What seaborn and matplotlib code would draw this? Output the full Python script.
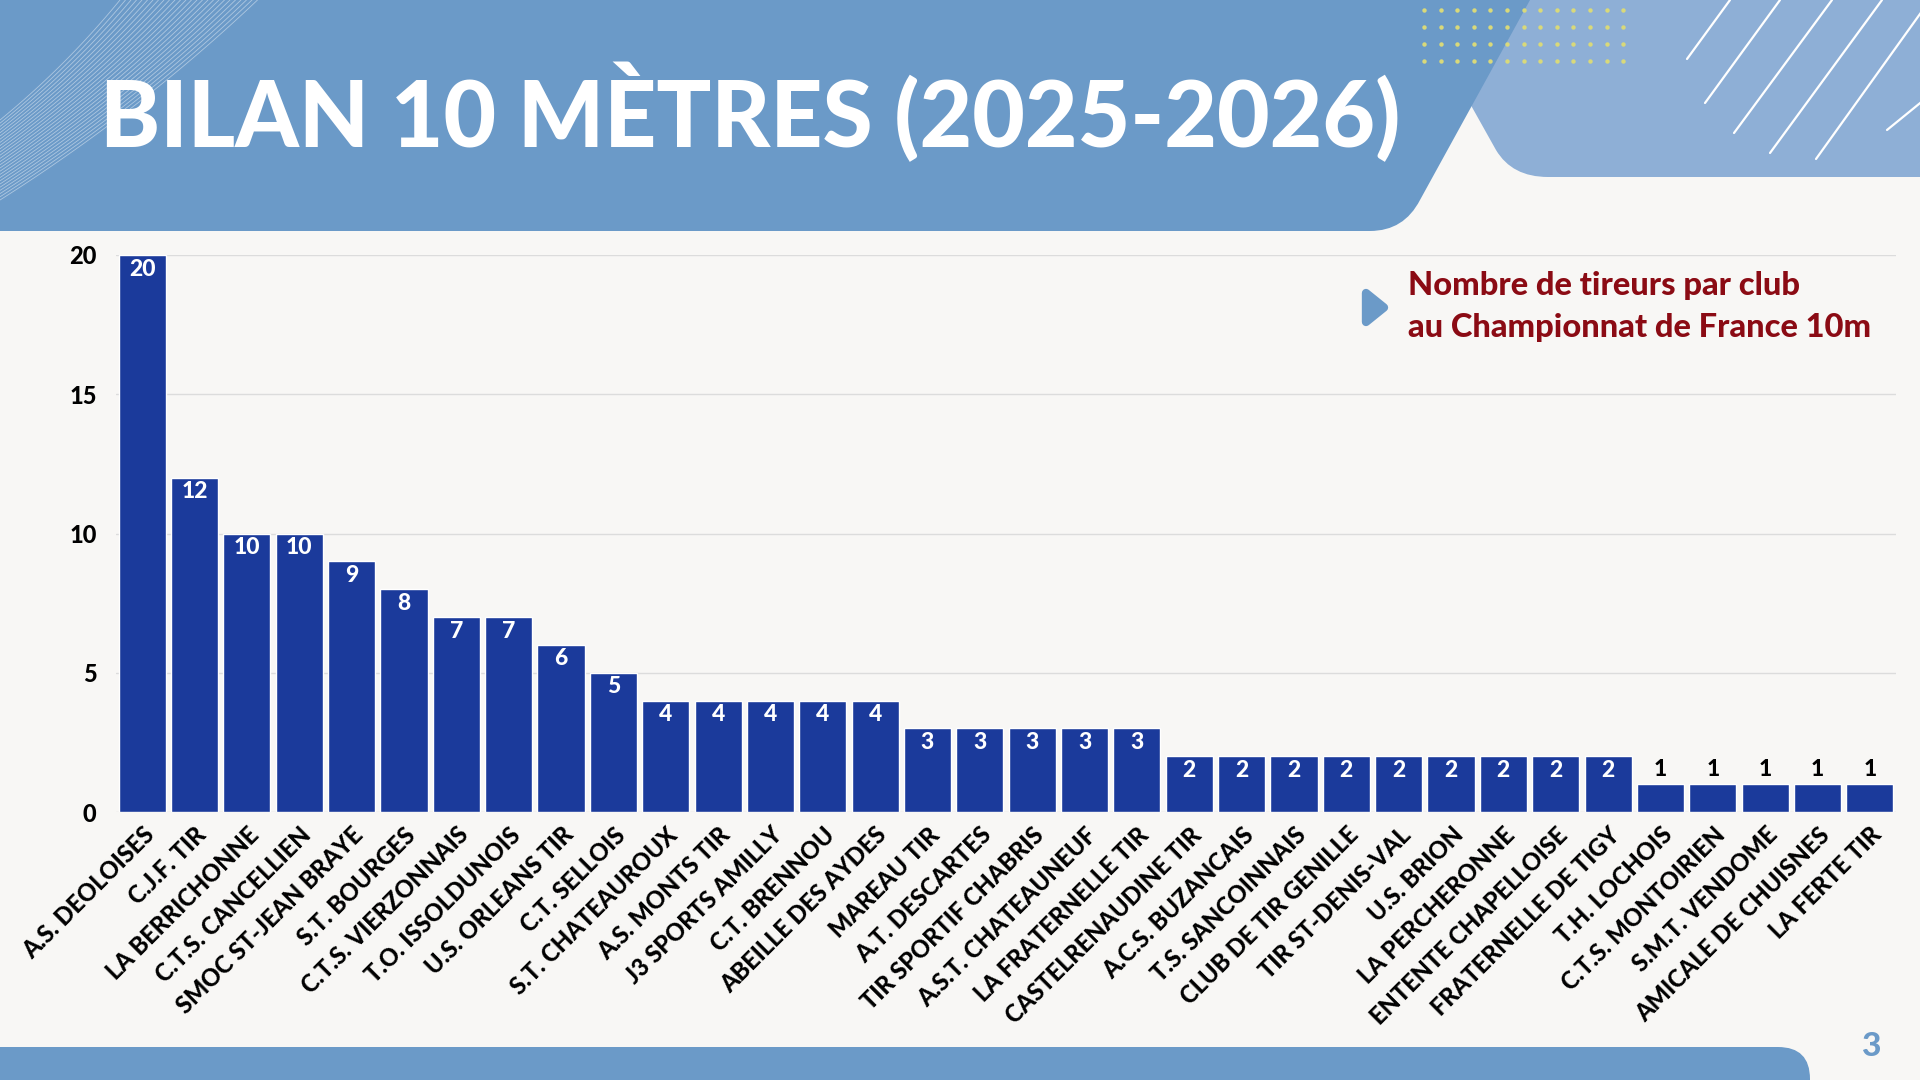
import matplotlib
matplotlib.use("Agg")
import matplotlib.pyplot as plt
import seaborn as sns
import numpy as np
import pandas as pd
from matplotlib.path import Path
from matplotlib.patches import PathPatch, FancyBboxPatch, Polygon

clubs = [
    "A.S. DEOLOISES", "C.J.F. TIR", "LA BERRICHONNE", "C.T.S. CANCELLIEN",
    "SMOC ST-JEAN BRAYE", "S.T. BOURGES", "C.T.S. VIERZONNAIS", "T.O. ISSOLDUNOIS",
    "U.S. ORLEANS TIR", "C.T. SELLOIS", "S.T. CHATEAUROUX", "A.S. MONTS TIR",
    "J3 SPORTS AMILLY", "C.T. BRENNOU", "ABEILLE DES AYDES", "MAREAU TIR",
    "A.T. DESCARTES", "TIR SPORTIF CHABRIS", "A.S.T. CHATEAUNEUF", "LA FRATERNELLE TIR",
    "CASTELRENAUDINE TIR", "A.C.S. BUZANCAIS", "T.S. SANCOINNAIS", "CLUB DE TIR GENILLE",
    "TIR ST-DENIS-VAL", "U.S. BRION", "LA PERCHERONNE", "ENTENTE CHAPELLOISE",
    "FRATERNELLE DE TIGY", "T.H. LOCHOIS", "C.T.S. MONTOIRIEN", "S.M.T. VENDOME",
    "AMICALE DE CHUISNES", "LA FERTE TIR",
]
tireurs = [20, 12, 10, 10, 9, 8, 7, 7, 6, 5, 4, 4, 4, 4, 4, 3, 3, 3, 3, 3,
           2, 2, 2, 2, 2, 2, 2, 2, 2, 1, 1, 1, 1, 1]
y_ticks = [0, 5, 10, 15, 20]
title_text = "BILAN 10 MÈTRES (2025-2026)"
legend_lines = ["Nombre de tireurs par club", "au Championnat de France 10m"]
page_number = "3"

BG = "#F8F7F5"
HEAD = "#6B9AC8"
HEAD_LIGHT = "#8EAFD6"
BAR = "#1B3A9B"
RED = "#8B0B14"

sns.set_theme(style="white")
plt.rcParams["font.family"] = ["Lato", "DejaVu Sans"]

fig = plt.figure(figsize=(19.2, 10.8), dpi=100, facecolor=BG)

# ---------- decorative background (pixel coordinates) ----------
bg = fig.add_axes([0, 0, 1, 1], zorder=-5)
bg.set_xlim(0, 1920)
bg.set_ylim(1080, 0)
bg.axis("off")
bg.set_facecolor(BG)

# light blue shape (right)
verts = [(1420, 0), (1920, 0), (1920, 177), (1548, 177), (1512, 177), (1496, 150),
         (1468, 100), (1420, 0)]
codes = [Path.MOVETO, Path.LINETO, Path.LINETO, Path.LINETO, Path.CURVE3, Path.CURVE3,
         Path.LINETO, Path.CLOSEPOLY]
bg.add_patch(PathPatch(Path(verts, codes), fc=HEAD_LIGHT, ec="none", zorder=1))

# white diagonal lines
for (x0, y0, x1, y1) in [(1730, 0, 1687, 59), (1780, 0, 1705, 103), (1832, 0, 1734, 133),
                         (1882, 0, 1770, 153), (1930, 0, 1816, 159), (1930, 95, 1887, 130)]:
    bg.plot([x0, x1], [y0, y1], color="white", lw=1.6, zorder=2, solid_capstyle="round")

# dark blue header band
verts = [(0, 0), (1530, 0), (1420, 200), (1404, 231), (1370, 231), (0, 231), (0, 0)]
codes = [Path.MOVETO, Path.LINETO, Path.LINETO, Path.CURVE3, Path.CURVE3, Path.LINETO,
         Path.CLOSEPOLY]
bg.add_patch(PathPatch(Path(verts, codes), fc=HEAD, ec="none", zorder=3))

# dots (over both blue shapes)
for r in range(4):
    for c in range(13):
        bg.plot(1424 + c * 16.6, 10 + r * 17, "o", ms=3.2, color="#D9D97A",
                mec="none", zorder=4)

# fine white wave lines top-left
t = np.linspace(0, 1, 60)
for k in range(26):
    x_top = 120 + k * 5.5
    y_left = 120 + k * 3.2
    xs = 2 * (1 - t) * t * (x_top * 0.55) + t ** 2 * x_top
    ys = (1 - t) ** 2 * y_left + 2 * (1 - t) * t * (y_left * 0.55)
    bg.plot(xs, ys, color="white", lw=0.6, alpha=0.45, zorder=4)

# bottom band
bg.add_patch(FancyBboxPatch((-60, 1047), 1870, 80,
                            boxstyle="round,pad=0,rounding_size=32",
                            fc=HEAD, ec="none", zorder=3))
bg.text(1871, 1047, page_number, color=HEAD, fontsize=24, fontweight="black",
        ha="center", va="center", zorder=5)

# title
title = bg.text(100, 147, title_text, color="white", fontsize=66, fontweight="black",
                ha="left", va="baseline", zorder=6)
fig.canvas.draw()
w = title.get_window_extent().width
title.set_fontsize(66 * 1300 / w)

# legend marker + text
bg.add_patch(Polygon([(1366, 293), (1366, 322), (1384, 307.5)], closed=True,
                     fc=HEAD, ec=HEAD, lw=6, joinstyle="round", zorder=5))
bg.text(1408, 285, legend_lines[0], color=RED, fontsize=23.5, fontweight="black",
        ha="left", va="center", zorder=5)
bg.text(1408, 328, legend_lines[1], color=RED, fontsize=23.5, fontweight="black",
        ha="left", va="center", zorder=5)

# ---------- bar chart ----------
df = pd.DataFrame({"club": clubs, "tireurs": tireurs})
ax = fig.add_axes([116 / 1920, 1 - 812 / 1080, (1896 - 116) / 1920, (812 - 255) / 1080])
ax.set_facecolor("none")
sns.barplot(data=df, x="club", y="tireurs", color=BAR, saturation=1, width=0.9,
            ax=ax, zorder=3)
ax.set_xlim(-0.5, len(clubs) - 0.5)
ax.set_ylim(0, 20)
ax.set_yticks(y_ticks)
ax.yaxis.grid(True, color="#DCDCDC", lw=1, zorder=0)
ax.set_axisbelow(True)
for s in ax.spines.values():
    s.set_visible(False)
ax.set_xlabel("")
ax.set_ylabel("")
ax.tick_params(axis="y", length=0, pad=14, labelsize=17, labelcolor="black")
ax.tick_params(axis="x", length=0, pad=8)
ax.set_xticks(range(len(clubs)))
ax.set_xticklabels(clubs, rotation=45, ha="right", rotation_mode="anchor",
                   fontsize=17, fontweight="black", color="black")
for lab in ax.get_yticklabels():
    lab.set_fontweight("black")

for i, v in enumerate(tireurs):
    if v >= 2:
        ax.annotate(str(v), (i, v), xytext=(0, -14), textcoords="offset pixels",
                    ha="center", va="center", color="white", fontsize=16.5,
                    fontweight="black", zorder=5)
    else:
        ax.annotate(str(v), (i, v), xytext=(0, 15), textcoords="offset pixels",
                    ha="center", va="center", color="black", fontsize=16.5,
                    fontweight="black", zorder=5)

fig.savefig("out.png", dpi=100, facecolor=BG)
